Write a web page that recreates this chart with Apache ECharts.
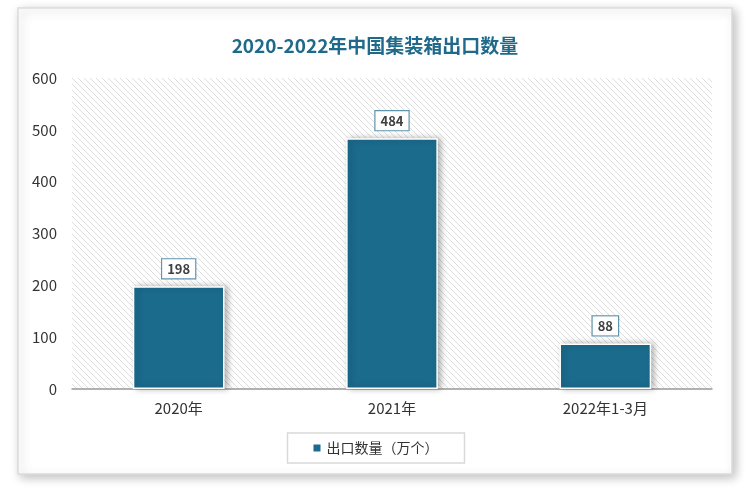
<!DOCTYPE html>
<html><head><meta charset="utf-8">
<script src="https://cdn.jsdelivr.net/npm/echarts@6/dist/echarts.min.js"></script>
<style>html,body{margin:0;padding:0;background:#fff}#c{width:750px;height:491px}</style>
</head><body><div id="c"></div>
<script>
const categories = ['2020年', '2021年', '2022年1-3月'];
const values = [198, 484, 88];
const seriesName = '出口数量（万个）';
const titleText = '2020-2022年中国集装箱出口数量';

const pc = document.createElement('canvas');
pc.width = 6; pc.height = 6;
const g = pc.getContext('2d');
g.fillStyle = '#fff'; g.fillRect(0,0,6,6);
g.strokeStyle = '#dedede'; g.lineWidth = 1;
g.beginPath();
g.moveTo(0,0); g.lineTo(6,6);
g.moveTo(-3,3); g.lineTo(3,9);
g.moveTo(3,-3); g.lineTo(9,3);
g.stroke();

const chart = echarts.init(document.getElementById('c'));
chart.setOption({
  animation: false,
  graphic: [{
    type: 'rect', z: -10, silent: true,
    shape: {x: 18, y: 8, width: 714, height: 466},
    style: {fill: '#fff', stroke: '#dcdcdc', lineWidth: 1.5, shadowBlur: 10, shadowColor: 'rgba(0,0,0,0.25)', shadowOffsetX: 3, shadowOffsetY: 3}
  }],
  title: {
    text: titleText, left: 'center', top: 31,
    textStyle: {fontFamily: 'Noto Sans CJK SC', fontSize: 19, fontWeight: 'bold', color: '#1f6a8a'}
  },
  grid: {left: 72, right: 38, top: 78, bottom: 102, show: true, borderWidth: 0,
    backgroundColor: {image: pc, repeat: 'repeat'}},
  legend: {
    bottom: 28, left: 'center', itemWidth: 9, itemHeight: 9, icon: 'rect',
    borderColor: '#d9d9d9', borderWidth: 1.5, padding: [8, 26, 8, 24],
    textStyle: {fontFamily: 'Noto Sans CJK SC', fontSize: 14, color: '#333'}
  },
  xAxis: {
    type: 'category', data: categories,
    axisLine: {lineStyle: {color: '#999', width: 1.5}},
    axisTick: {show: false},
    axisLabel: {fontFamily: 'Noto Sans CJK SC', fontSize: 15, color: '#333', margin: 12}
  },
  yAxis: {
    type: 'value', min: 0, max: 600, interval: 100,
    splitLine: {show: false},
    axisLine: {show: false}, axisTick: {show: false},
    axisLabel: {fontFamily: 'Noto Sans CJK SC', fontSize: 15, color: '#333', margin: 15}
  },
  series: [{
    name: seriesName, type: 'bar', data: values, barWidth: '43%',
    itemStyle: {color: '#1b6b8d', borderColor: '#fff', borderWidth: 1.5,
      shadowBlur: 6, shadowColor: 'rgba(0,0,0,0.3)', shadowOffsetX: 3, shadowOffsetY: 0},
    label: {
      show: true, position: 'top', distance: 8,
      backgroundColor: '#fff', borderColor: '#5f94ad', borderWidth: 1.2,
      padding: [3, 5, 3, 5],
      fontFamily: 'Noto Sans CJK SC', fontSize: 13, fontWeight: 'bold', color: '#404040'
    }
  }]
});
</script></body></html>
